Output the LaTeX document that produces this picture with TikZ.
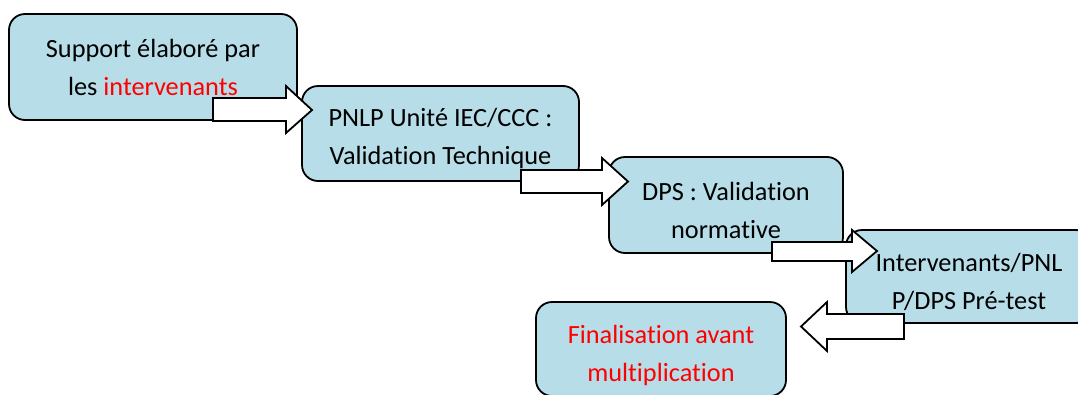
\documentclass[tikz,border=0pt]{standalone}
\usepackage{fontspec}
\setmainfont{Carlito}[Ligatures=CommonOff]
\definecolor{boxblue}{HTML}{B7DDE8}
\definecolor{redtxt}{HTML}{FF0000}
\tikzset{
  stepbox/.style={draw=black, line width=1.8pt, fill=boxblue, rounded corners=16pt,
    inner sep=0pt},
  steptext/.style={inner sep=0pt, align=center, font=\fontsize{26.3}{38}\selectfont},
  blockarrow/.style={draw=black, line width=1.8pt, fill=white, line join=miter}
}
\begin{document}
\begin{tikzpicture}[x=1pt,y=-1pt]
\useasboundingbox (0,0) rectangle (1078,394);
\clip (0,0) rectangle (1078,394);
\node[stepbox, minimum width=288pt, minimum height=106pt] (b1) at (153,67) {};
\node[steptext] (t1) at ([yshift=-0.5pt]b1.center) {Support élaboré par\\les \textcolor{redtxt}{intervenants}};
\node[stepbox, minimum width=277pt, minimum height=95pt] (b2) at (440.5,133.5) {};
\node[steptext] (t2) at ([yshift=-5pt]b2.center) {PNLP Unité IEC/CCC :\\Validation Technique};
\node[stepbox, minimum width=234pt, minimum height=96pt] (b3) at (726,205) {};
\node[steptext] (t3) at ([yshift=-5.5pt]b3.center) {DPS : Validation\\normative};
\node[stepbox, minimum width=246pt, minimum height=93pt] (b4) at (969,276.5) {};
\node[steptext] (t4) at ([yshift=-5.5pt]b4.center) {Intervenants/PNL\\P/DPS Pré-test};
\node[stepbox, minimum width=250pt, minimum height=94pt] (b5) at (661,349) {};
\node[steptext, text=redtxt] (t5) at ([yshift=-6pt]b5.center) {Finalisation avant\\multiplication};
% block arrows
\draw[blockarrow] (213,98) -- (286,98) -- (286,86) -- (312,110) -- (286,133) -- (286,121) -- (213,121) -- cycle;
\draw[blockarrow] (521,170) -- (602,170) -- (602,158) -- (628,181.5) -- (602,205) -- (602,193) -- (521,193) -- cycle;
\draw[blockarrow] (772,242) -- (852,242) -- (852,230) -- (877,251) -- (852,272) -- (852,261) -- (772,261) -- cycle;
\draw[blockarrow] (904,314) -- (827,314) -- (827,302) -- (801,326.5) -- (827,351) -- (827,339) -- (904,339) -- cycle;
\end{tikzpicture}
\end{document}
